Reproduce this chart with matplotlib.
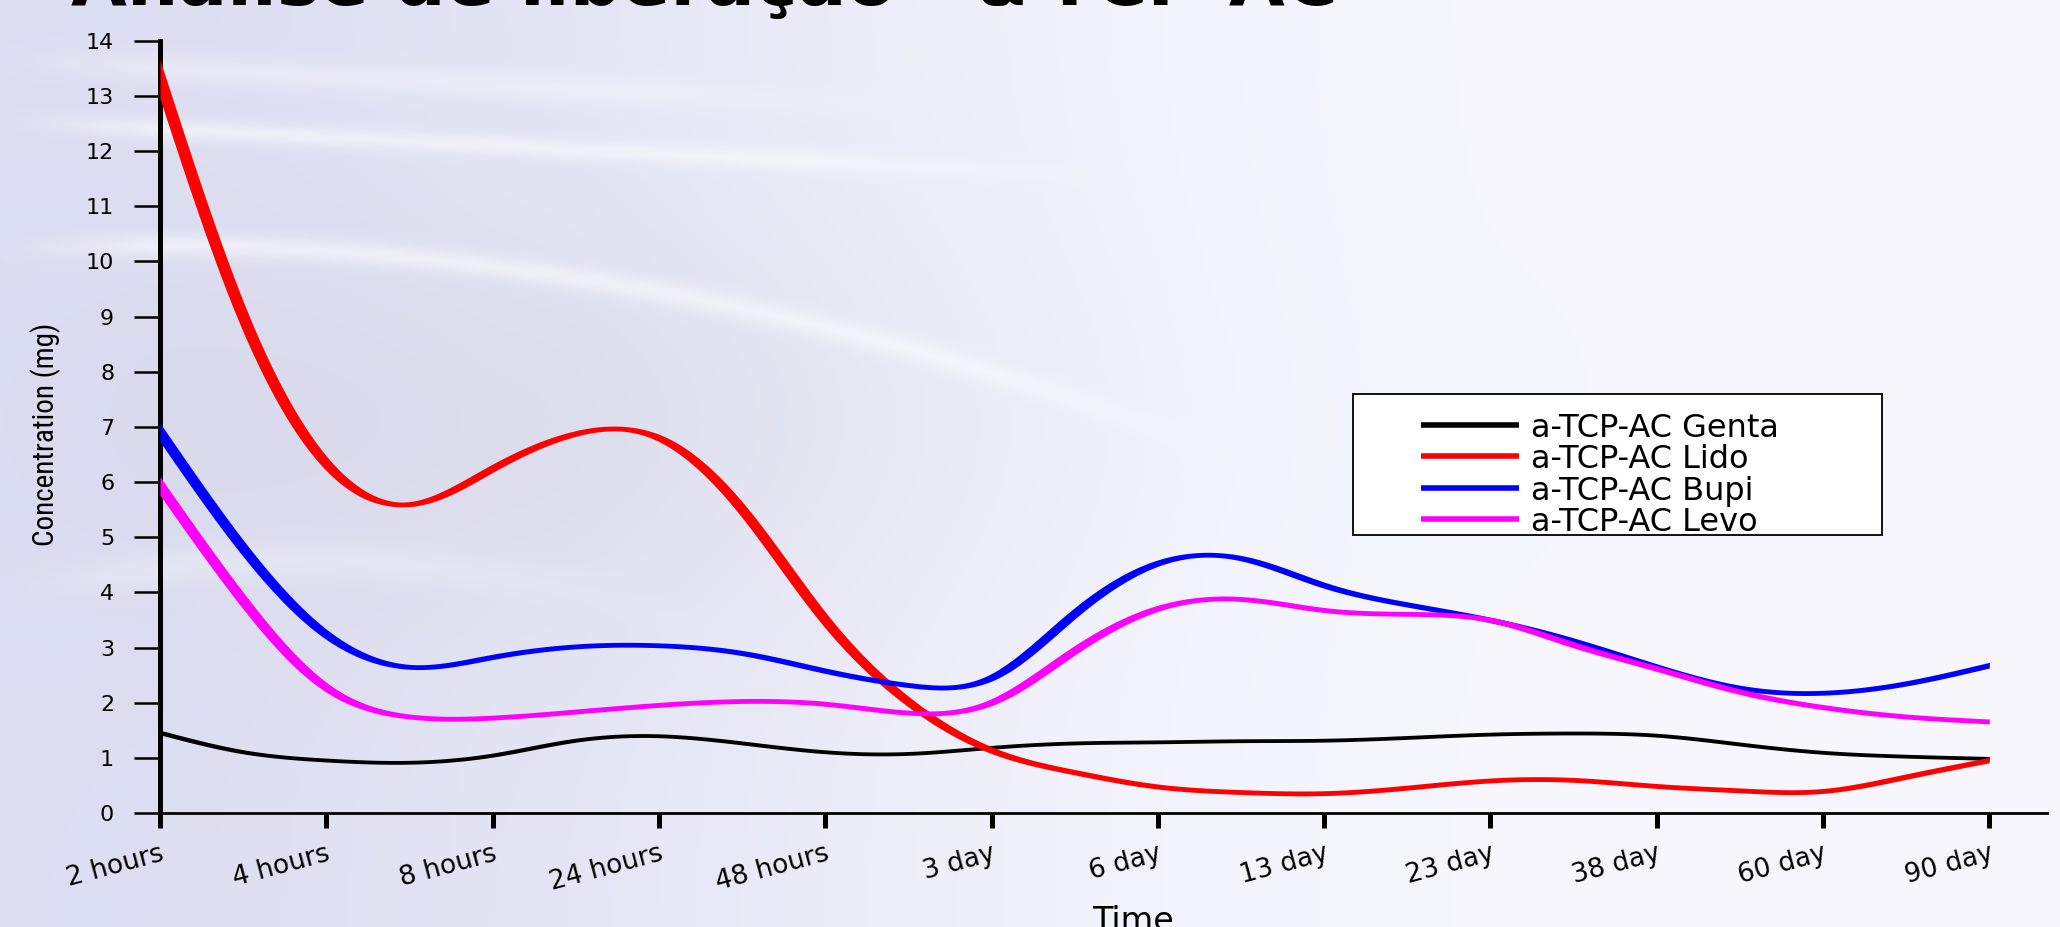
import numpy as np
import matplotlib
matplotlib.use('Agg')
import matplotlib.pyplot as plt
from matplotlib import font_manager
from matplotlib.lines import Line2D
from matplotlib.patches import Rectangle

# time points on the x axis
time_labels = ['2 hours', '4 hours', '8 hours', '24 hours', '48 hours', '3 day',
               '6 day', '13 day', '23 day', '38 day', '60 day', '90 day']

# curve readings every half step between time points (index units)
sample_pos = np.arange(0, 11.5, 0.5)

genta = [1.46, 1.11, 0.96, 0.92, 1.05, 1.32, 1.40, 1.27, 1.11, 1.08, 1.19, 1.27,
         1.29, 1.31, 1.32, 1.37, 1.43, 1.45, 1.41, 1.25, 1.10, 1.03, 0.99]
lido = [13.3, 9.0, 6.34, 5.60, 6.25, 6.88, 6.80, 5.50, 3.50, 2.02, 1.14, 0.74,
        0.48, 0.38, 0.36, 0.46, 0.59, 0.60, 0.49, 0.41, 0.40, 0.66, 0.96]
bupi = [6.9, 4.8, 3.24, 2.65, 2.83, 3.02, 3.04, 2.90, 2.58, 2.32, 2.46, 3.62,
        4.53, 4.62, 4.13, 3.78, 3.50, 3.12, 2.65, 2.27, 2.18, 2.35, 2.68]
levo = [5.93, 3.85, 2.28, 1.75, 1.73, 1.84, 1.96, 2.03, 1.98, 1.82, 2.01, 2.95,
        3.71, 3.88, 3.68, 3.61, 3.50, 3.05, 2.62, 2.20, 1.92, 1.75, 1.66]

series_names = ['a-TCP-AC Genta', 'a-TCP-AC Lido', 'a-TCP-AC Bupi', 'a-TCP-AC Levo']
series_values = [genta, lido, bupi, levo]
series_colors = ['#000000', '#ff0000', '#0000ff', '#ff00ff']
draw_order = [0, 2, 3, 1]

title = 'Análise de liberação - α-TCP-AC'

W, H = 2060, 927
STRETCH = 2.6  # the slide graphic is stretched sideways, steep strokes get fatter


def natural_spline(x, y, xs):
    x = np.asarray(x, float)
    y = np.asarray(y, float)
    n = len(x)
    h = np.diff(x)
    A = np.zeros((n, n))
    b = np.zeros(n)
    A[0, 0] = A[-1, -1] = 1
    for i in range(1, n - 1):
        A[i, i - 1] = h[i - 1]
        A[i, i] = 2 * (h[i - 1] + h[i])
        A[i, i + 1] = h[i]
        b[i] = 3 * ((y[i + 1] - y[i]) / h[i] - (y[i] - y[i - 1]) / h[i - 1])
    c = np.linalg.solve(A, b)
    bb = (y[1:] - y[:-1]) / h - h * (2 * c[:-1] + c[1:]) / 3
    d = (c[1:] - c[:-1]) / (3 * h)
    idx = np.clip(np.searchsorted(x, xs) - 1, 0, n - 2)
    dx = xs - x[idx]
    return y[idx] + bb[idx] * dx + c[idx] * dx ** 2 + d[idx] * dx ** 3


fig = plt.figure(figsize=(W / 100, H / 100), dpi=100)

# slide background: lavender on the left fading to white, with soft light streaks
bg = fig.add_axes([0, 0, 1, 1], zorder=0)
bg.axis('off')
yy, xx = np.mgrid[0:H, 0:W].astype(float)
t = np.clip(xx / 1500.0, 0, 1)
t = t * t * (3 - 2 * t)
left_col = np.array([0.865, 0.872, 0.945])
right_col = np.array([0.965, 0.965, 0.992])
img = left_col * (1 - t[..., None]) + right_col * t[..., None]
haze = np.exp(-(((xx - 560) / 480) ** 2 + ((yy - 420) / 200) ** 2))
img = img - 0.03 * haze[..., None]


def streak(yc, sigma, amp, x0, x1):
    fade = np.clip((xx - x0) / 150, 0, 1) * np.clip((x1 - xx) / 300, 0, 1)
    return amp * fade * np.exp(-((yy - yc) / sigma) ** 2)


light = streak(128 + 0.05 * (xx - 150), 10, 0.5, 0, 1100)
light += streak(245 + 0.00018 * (xx - 150) ** 2, 12, 0.5, 0, 1250)
light += streak(60 + 0.05 * xx, 14, 0.3, 0, 900)
light += streak(560 + 0.0004 * (xx - 300) ** 2, 18, 0.25, 0, 700)
light = np.clip(light, 0, 1)
img = img * (1 - light[..., None]) + light[..., None]
bg.imshow(np.clip(img, 0, 1), extent=[0, 1, 0, 1], aspect='auto', origin='upper')

# plot area in pixels
x0_px, x_end_px = 160, 2047
y0_px, y14_px = 813, 40.7
x_max = (x_end_px - x0_px) / 166.3
ax = fig.add_axes([x0_px / W, (H - y0_px) / H, (x_end_px - x0_px) / W, (y0_px - y14_px) / H],
                  zorder=1)
ax.set_facecolor('none')
ax.set_xlim(0, x_max)
ax.set_ylim(0, 14)

px_per_x = (x_end_px - x0_px) / x_max
py_per_y = (y0_px - y14_px) / 14

xs = np.linspace(0, 11, 2400)
for k in draw_order:
    ys = natural_spline(sample_pos, series_values[k], xs)
    w = 3.8 if k == 0 else 4.8
    slope_px = np.gradient(ys, xs) * py_per_y / px_per_x
    half = 0.5 * w * np.sqrt(1 + (STRETCH * slope_px) ** 2) / py_per_y
    ax.fill_between(xs, ys - half, ys + half, color=series_colors[k], lw=0, zorder=3 + k)

ax.set_xticks(range(len(time_labels)))
ax.set_xticklabels(time_labels)
ax.set_yticks(range(0, 15))
for lab in ax.get_xticklabels():
    lab.set_rotation(15)
    lab.set_ha('right')
    lab.set_va('top')
    lab.set_rotation_mode('anchor')

ax.tick_params(axis='y', direction='out', length=19, width=1.8, pad=14, labelsize=16,
               colors='black')
ax.tick_params(axis='x', direction='out', length=11, width=3.6, pad=9, labelsize=19,
               colors='black')
ax.spines['top'].set_visible(False)
ax.spines['right'].set_visible(False)
ax.spines['left'].set_linewidth(3.6)
ax.spines['bottom'].set_linewidth(2.0)

# axis titles
available = {f.name for f in font_manager.fontManager.ttflist}
narrow = next((f for f in ['Liberation Sans Narrow', 'Roboto Condensed', 'Open Sans Condensed']
               if f in available), None)
if narrow:
    fig.text(46 / W, 1 - 434 / H, 'Concentration (mg)', rotation=90, ha='center', va='center',
             fontsize=21, family=narrow)
else:
    fig.text(46 / W, 1 - 434 / H, 'Concentration (mg)', rotation=90, ha='center', va='center',
             fontsize=16, family='DejaVu Sans', fontstretch='condensed')
fig.text(1133 / W, 1 - 905 / H, 'Time', ha='center', va='top', fontsize=24)

# slide title, mostly above the visible area
fig.text(71 / W, 1 - 5 / H, title, ha='left', va='baseline', fontsize=52, fontweight='bold')

# legend box
fig.add_artist(Rectangle((1353 / W, 1 - 535 / H), (1882 - 1353) / W, (535 - 394) / H,
                         transform=fig.transFigure, facecolor='white', edgecolor='black',
                         lw=1.3, zorder=5))
rows_y = [424.6, 456.0, 488.0, 519.0]
for k, ry in enumerate(rows_y):
    fig.add_artist(Line2D([1421 / W, 1519 / W], [1 - ry / H] * 2, transform=fig.transFigure,
                          color=series_colors[k], lw=4.0, solid_capstyle='butt', zorder=6))
    fig.text(1531 / W, 1 - ry / H, series_names[k], ha='left', va='center_baseline',
             fontsize=23, zorder=6)

fig.savefig('out.png', dpi=100)
